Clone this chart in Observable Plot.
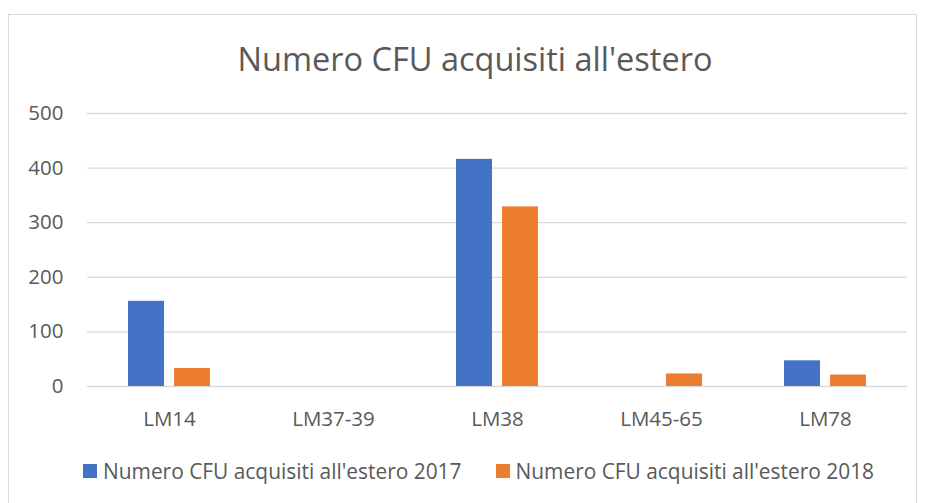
<!DOCTYPE html>
<html><head><meta charset="utf-8">
<script src="https://cdn.jsdelivr.net/npm/d3@7"></script>
<script src="https://cdn.jsdelivr.net/npm/@observablehq/plot@0.6"></script>
<style>
body{margin:0;background:#fff;font-family:"Open Sans",sans-serif;width:930px;height:503px;overflow:hidden;position:relative}
#frame{position:absolute;left:8px;top:14px;width:909px;height:520px;border:1px solid #d9d9d9;box-sizing:border-box}
#title{position:absolute;top:37px;left:20px;width:910px;text-align:center;font-size:32.5px;color:#595959;line-height:44px}
#chart{position:absolute;left:0;top:80px}
#legend{position:absolute;top:456px;left:83px;display:flex;gap:34px;font-size:20.9px;color:#595959;line-height:30px;white-space:nowrap}
#legend span.item{display:flex;align-items:center}
#legend span.sw{display:inline-block;width:14px;height:14px;margin-right:6px}
</style></head>
<body>
<div id="frame"></div>
<div id="title">Numero CFU acquisiti all'estero</div>
<div id="chart"></div>
<div id="legend"></div>
<script>
const categories = ["LM14", "LM37-39", "LM38", "LM45-65", "LM78"];
const seriesNames = ["Numero CFU acquisiti all'estero 2017", "Numero CFU acquisiti all'estero 2018"];
const values2017 = [156, 0, 416, 0, 47];
const values2018 = [33, 0, 329, 23, 21];
const yTicks = [0, 100, 200, 300, 400, 500];
const colors = ["#4472C4", "#ED7D31"];

const rows = [];
categories.forEach((c, i) => {
  rows.push({cat: c, series: seriesNames[0], value: values2017[i]});
  rows.push({cat: c, series: seriesNames[1], value: values2018[i]});
});

const chart = Plot.plot({
  width: 930,
  height: 360,
  marginTop: 33,
  marginBottom: 54,
  marginLeft: 85,
  marginRight: 22,
  style: {fontFamily: "'Open Sans', sans-serif", fontSize: "20.5px", color: "#595959", background: "transparent"},
  fx: {domain: categories, paddingInner: 0, paddingOuter: 0, label: null, tickSize: 0, tickPadding: 25},
  x: {domain: seriesNames, axis: null, paddingInner: 0.213, paddingOuter: 0.872},
  y: {domain: [0, 500], ticks: yTicks, label: null, tickSize: 0, tickPadding: 24},
  color: {domain: seriesNames, range: colors},
  marks: [
    Plot.ruleY(yTicks, {stroke: "#d9d9d9", strokeWidth: 1.3}),
    Plot.barY(rows, {fx: "cat", x: "series", y: "value", fill: "series", inset: 0})
  ]
});
document.getElementById("chart").appendChild(chart);

const legend = document.getElementById("legend");
seriesNames.forEach((s, i) => {
  const item = document.createElement("span");
  item.className = "item";
  const sw = document.createElement("span");
  sw.className = "sw";
  sw.style.background = colors[i];
  item.appendChild(sw);
  item.appendChild(document.createTextNode(s));
  legend.appendChild(item);
});
</script>
</body></html>
